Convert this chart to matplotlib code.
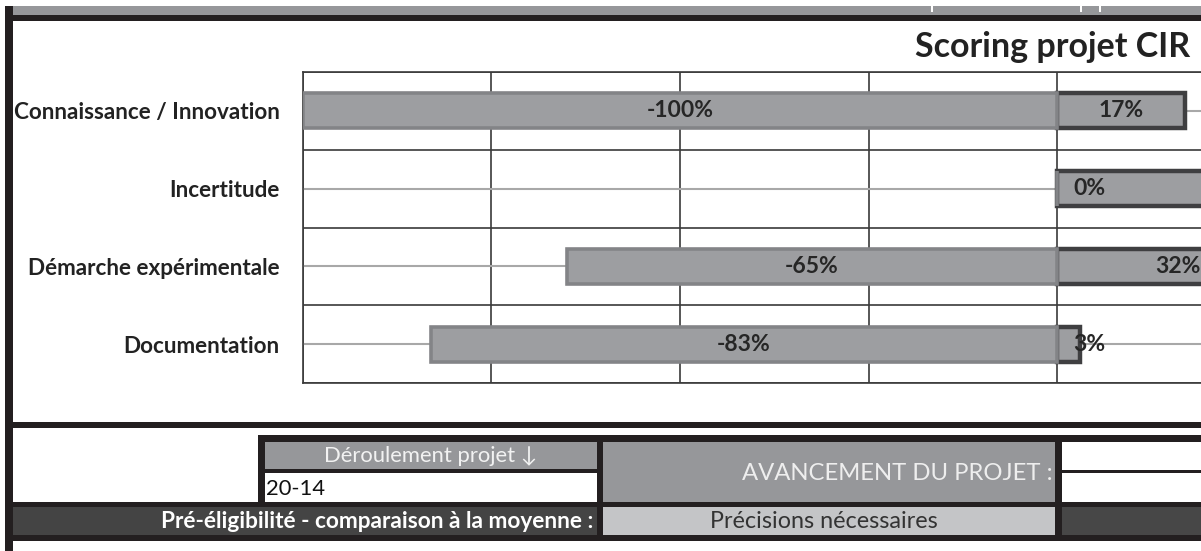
import matplotlib
matplotlib.use("Agg")
import matplotlib.pyplot as plt
from matplotlib.patches import Rectangle
import numpy as np

# 图的像素尺寸（和参考图一致）
W, H = 1201, 551

# 数据
categories = ["Connaissance / Innovation", "Incertitude", "Démarche expérimentale", "Documentation"]
neg_values = [-1.00, 0.0, -0.65, -0.83]
neg_labels = ["-100%", "", "-65%", "-83%"]
pos_values = [0.17, 0.45, 0.32, 0.03]
pos_label_values = [0.17, 0.00, 0.32, 0.03]
pos_labels = ["17%", "0%", "32%", "3%"]

title = "Scoring projet CIR"

# 颜色
BAR_FILL = "#9d9ea1"
NEG_EDGE = "#838487"
POS_EDGE = "#3f3f41"
GRID = "#3a3a3a"
CENTER_LINE = "#a8a8a8"
BLACK = "#231f20"
MID_GRAY = "#96979a"
DARK_GRAY = "#444444"
LIGHT_GRAY = "#c4c5c7"

FONT = ["Lato", "DejaVu Sans"]
plt.rcParams["font.family"] = FONT


def box(fig, x0, y0, x1, y1, color, z=0):
    """在像素坐标（原点左上角）画一个填充矩形"""
    fig.add_artist(Rectangle((x0 / W, 1 - y1 / H), (x1 - x0) / W, (y1 - y0) / H,
                             transform=fig.transFigure, facecolor=color,
                             edgecolor="none", zorder=z))


def text(fig, x, y, s, **kw):
    fig.text(x / W, 1 - y / H, s, **kw)


fig = plt.figure(figsize=(W / 100, H / 100), dpi=100)
fig.patch.set_facecolor("white")

# 外框
box(fig, 13, 6, W, 15, MID_GRAY)
for x in (931, 1080, 1099):
    box(fig, x, 6, x + 2, 12, "white", 1)
box(fig, 5, 15, W, 21, BLACK)
box(fig, 5, 6, 13, H, BLACK)
box(fig, 13, 422, W, 428, BLACK)

# 下方表格
box(fig, 258, 435, W, 541, BLACK)
box(fig, 13, 502, W, 541, BLACK)
box(fig, 265, 442, 597, 469, MID_GRAY, 1)
box(fig, 265, 473, 597, 502, "white", 1)
box(fig, 603, 442, 1055, 502, MID_GRAY, 1)
box(fig, 1062, 442, W, 470, "white", 1)
box(fig, 1062, 473, W, 502, "white", 1)
box(fig, 13, 507, 597, 535, DARK_GRAY, 1)
box(fig, 603, 507, 1055, 535, LIGHT_GRAY, 1)
box(fig, 1062, 507, W, 535, "#474747", 1)

text(fig, 431, 456, "Déroulement projet ↓", ha="center", va="center",
     fontsize=15.8, color="#f2f2f2", zorder=2)
text(fig, 266, 489, "20-14", ha="left", va="center", fontsize=15.8,
     color="#111111", zorder=2)
text(fig, 1053, 473, "AVANCEMENT DU PROJET :", ha="right", va="center",
     fontsize=17.2, color="#eeeeee", zorder=2)
text(fig, 593, 521, "Pré-éligibilité - comparaison à la moyenne :", ha="right",
     va="center", fontsize=16.3, fontweight="bold", color="white", zorder=2)
text(fig, 824, 522, "Précisions nécessaires", ha="center", va="center",
     fontsize=16.8, color="#333333", zorder=2)

# 标题
text(fig, 1190, 47, title, ha="right", va="center", fontsize=24.5,
     fontweight="bold", color="#222222")

# 图表区域：左 303px，上 72px，下 383px，右边被裁掉
ax = fig.add_axes([303 / W, 1 - 383 / H, (W - 303) / W, (383 - 72) / H])

y = np.arange(len(categories))
ax.hlines(y, -1.0, 1.0, color=CENTER_LINE, linewidth=1.5, zorder=1)

ax.barh(y, pos_values, height=0.45, color=BAR_FILL, edgecolor=POS_EDGE,
        linewidth=3.2, zorder=2)
ax.barh(y, neg_values, height=0.45, color=BAR_FILL, edgecolor=NEG_EDGE,
        linewidth=2.6, zorder=3)

for i in range(len(categories)):
    if neg_labels[i]:
        ax.text(neg_values[i] / 2, y[i], neg_labels[i], ha="center", va="center",
                fontsize=16.5, fontweight="bold", color="#262626", zorder=5)
    ax.text(max(pos_label_values[i] / 2, 0.043), y[i], pos_labels[i],
            ha="center", va="center", fontsize=16.5, fontweight="bold",
            color="#262626", zorder=5)

ax.set_xticks(np.arange(-1.0, 0.26, 0.25))
ax.set_xticklabels([])
ax.set_yticks(y)
ax.set_yticklabels(categories, fontsize=16.2, fontweight="bold", color="#222222")
ax.set_yticks(np.arange(-0.5, 4.0, 1.0), minor=True)
# set_xticks 会扩展范围，所以最后再设置 xlim
ax.set_xlim(-1.0, (W - 1057) / 754)
ax.set_ylim(3.5, -0.5)
ax.tick_params(axis="both", which="both", length=0)
ax.tick_params(axis="y", pad=17)
ax.grid(axis="x", which="major", color=GRID, linewidth=1.2, zorder=0)
ax.grid(axis="y", which="minor", color=GRID, linewidth=1.2, zorder=0)
ax.set_axisbelow(True)
for side in ("top", "left", "bottom"):
    ax.spines[side].set_color(GRID)
    ax.spines[side].set_linewidth(1.2)
ax.spines["right"].set_visible(False)

fig.savefig("out.png", dpi=100)
